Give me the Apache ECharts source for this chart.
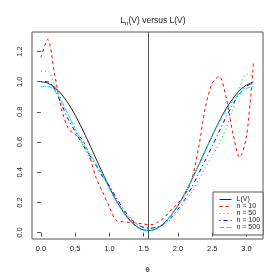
<!DOCTYPE html>
<html><head><meta charset="utf-8">
<script src="https://cdn.jsdelivr.net/npm/echarts@6/dist/echarts.min.js"></script>
<style>html,body{margin:0;padding:0;background:#fff}#c{width:280px;height:280px}</style>
</head><body><div id="c"></div>
<script>
const theta = [0,0.1,0.2,0.3,0.4,0.5,0.6,0.7,0.8,0.9,1.0,1.1,1.2,1.3,1.4,1.5,1.6,1.7,1.8,1.9,2.0,2.1,2.2,2.3,2.4,2.5,2.6,2.7,2.8,2.9,3.0,3.1];
const LV   = [1.00,0.99,0.962,0.918,0.855,0.778,0.69,0.594,0.494,0.395,0.30,0.213,0.14,0.082,0.04,0.018,0.015,0.03,0.064,0.115,0.18,0.26,0.35,0.447,0.545,0.643,0.736,0.82,0.888,0.942,0.978,0.997];
const n10  = [1.16,1.28,1.05,0.82,0.69,0.65,0.62,0.52,0.37,0.27,0.17,0.08,0.072,0.068,0.063,0.057,0.052,0.068,0.10,0.15,0.195,0.25,0.35,0.56,0.83,0.99,1.035,0.90,0.66,0.50,0.64,1.12];
const n50  = [1.07,1.07,0.975,0.88,0.78,0.69,0.59,0.50,0.44,0.38,0.29,0.21,0.15,0.10,0.06,0.035,0.03,0.035,0.055,0.09,0.14,0.20,0.27,0.35,0.43,0.51,0.59,0.69,0.82,0.96,1.05,1.04];
const n100 = [1.00,1.00,0.95,0.85,0.75,0.67,0.59,0.52,0.45,0.37,0.31,0.23,0.16,0.095,0.055,0.035,0.03,0.038,0.06,0.10,0.155,0.22,0.30,0.39,0.48,0.575,0.67,0.765,0.85,0.92,0.97,0.99];
const n500 = [0.965,0.97,0.94,0.87,0.78,0.69,0.60,0.53,0.46,0.38,0.29,0.205,0.135,0.075,0.035,0.015,0.012,0.028,0.062,0.113,0.178,0.258,0.35,0.447,0.545,0.64,0.73,0.81,0.875,0.925,0.955,0.97];
const xTicks = [0,0.5,1.0,1.5,2.0,2.5,3.0];
const yTicks = [0,0.2,0.4,0.6,0.8,1.0,1.2];
const vline = 1.5708;
const names = ['L(V)','n = 10','n = 50','n = 100','n = 500'];

const FONT = 'Liberation Sans';
const pair = arr => theta.map((t,i)=>[t,arr[i]]);
function mk(name, arr, color, dash, extra){
  return Object.assign({
    name, type:'line', data: pair(arr), showSymbol:false, symbol:'none', smooth:0.3,
    lineStyle:{color, width:1, type:dash}, itemStyle:{color}, z:3
  }, extra||{});
}
const chart = echarts.init(document.getElementById('c'), null, {renderer:'canvas'});
chart.setOption({
  animation:false,
  backgroundColor:'#fff',
  title:{
    text:'{a|L}{b|n}{a|(V) versus L(V)}',
    left:148, top:10, textAlign:'center',
    textStyle:{fontWeight:'normal', rich:{
      a:{fontFamily:FONT, fontSize:8.5, fontWeight:'normal', color:'#222'},
      b:{fontFamily:FONT, fontSize:6, fontWeight:'normal', color:'#222', padding:[5,0,0,0]}
    }}
  },
  grid:{left:32, top:32, width:231, height:207, show:true, borderColor:'#555', borderWidth:1, backgroundColor:'transparent'},
  xAxis:{
    type:'value', min:-0.13, max:3.24,
    name:'θ', nameLocation:'middle', nameGap:27,
    nameTextStyle:{fontFamily:FONT, fontSize:8, color:'#222'},
    axisLine:{show:false}, splitLine:{show:false},
    axisTick:{show:true, length:4, lineStyle:{color:'#555'}, customValues:xTicks},
    axisLabel:{fontFamily:FONT, fontSize:7.5, color:'#222', margin:6, customValues:xTicks,
      formatter:v=>v.toFixed(1)}
  },
  yAxis:{
    type:'value', min:-0.042, max:1.329,
    axisLine:{show:false}, splitLine:{show:false},
    axisTick:{show:true, length:4, lineStyle:{color:'#555'}, customValues:yTicks},
    axisLabel:{fontFamily:FONT, fontSize:7.5, color:'#222', margin:8, rotate:90, customValues:yTicks,
      formatter:v=>v.toFixed(1)}
  },
  legend:{
    data:names, orient:'vertical', left:213, top:192,
    itemWidth:12, itemHeight:8, itemGap:0,
    padding:[4,3,4,6],
    borderColor:'#555', borderWidth:1, backgroundColor:'#fff',
    itemStyle:{opacity:0},
    lineStyle:{width:1},
    textStyle:{fontFamily:FONT, fontSize:7, color:'#222'}
  },
  series:[
    mk(names[0], LV, '#222', 'solid', {
      markLine:{symbol:'none', silent:true, label:{show:false},
        lineStyle:{color:'#555', type:'solid', width:1},
        data:[{xAxis:vline}]}
    }),
    mk(names[1], n10, '#ff0000', [3,3]),
    mk(names[2], n50, '#00cd00', [1,3]),
    mk(names[3], n100, '#0000ff', [1,3,4,3]),
    mk(names[4], n500, '#00e5ee', [5,2])
  ]
});
</script></body></html>
